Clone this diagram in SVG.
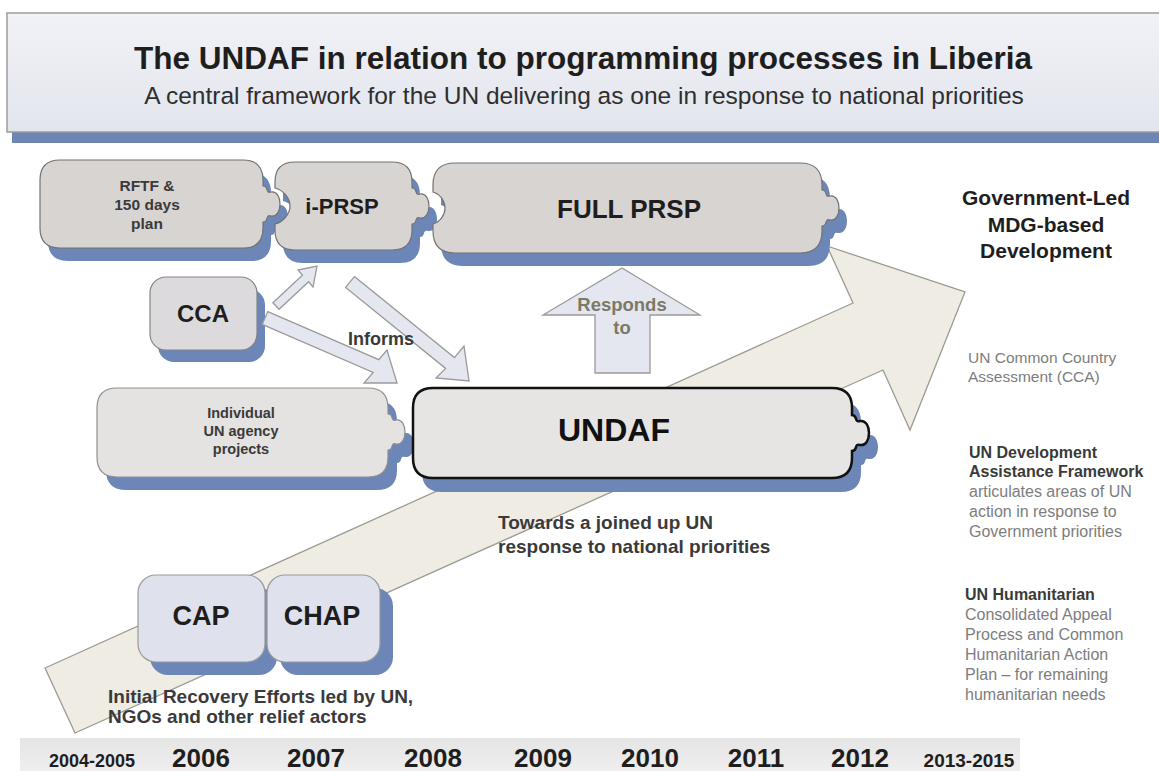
<svg xmlns="http://www.w3.org/2000/svg" xmlns:xlink="http://www.w3.org/1999/xlink" width="1159" height="771" viewBox="0 0 1159 771">
<style>
text{font-family:"Liberation Sans",Arial,sans-serif}
.b{font-weight:bold}
.dark{fill:#1e1e1e}
.mid{fill:#3a3a3a}
.gray{fill:#7d7d7d}
.shadow{fill:#6c86b8}
.top{fill:#d8d4d2;stroke:#737373;stroke-width:1.2}
.light{fill:#e5e2e2;stroke:#8f8f8f;stroke-width:1.2}
.undaf{fill:#e7e4e4;stroke:#111;stroke-width:2.5}
.cca{fill:#dcdadc;stroke:#858585;stroke-width:1.2}
.cap{fill:#dfe2ec;stroke:#9a9a9a;stroke-width:1.2}
.blk{fill:#e5e7f0;stroke:#9a9a9a;stroke-width:1.3}
</style>
<defs>
<linearGradient id="hdr" x1="0" y1="0" x2="0" y2="1">
<stop offset="0" stop-color="#f1f2f7"/>
<stop offset="1" stop-color="#e3e5ed"/>
</linearGradient>
<linearGradient id="band" x1="0" y1="0" x2="0" y2="1">
<stop offset="0" stop-color="#e6e5e5"/>
<stop offset="1" stop-color="#efeded"/>
</linearGradient>
<path id="p-rftf" d="M60,160 H243 Q263,160 263,180 V186 C269,186 265,194 271,192 C283,190 283,218 271,216 C265,214 269,222 263,222 V228 Q263,248 243,248 H60 Q40,248 40,228 V180 Q40,160 60,160 Z"/>
<path id="p-iprsp" d="M295,162 H392 Q412,162 412,182 V188 C418,188 414,196 420,194 C432,192 432,220 420,218 C414,216 418,224 412,224 V230 Q412,250 392,250 H295 Q275,250 275,230 V224 C283,222 290,214 290,206 C290,198 283,190 275,188 V182 Q275,162 295,162 Z"/>
<path id="p-full" d="M455,163 H800 Q822,163 822,185 V190 C828,190 824,198 830,196 C842,194 842,222 830,220 C824,218 828,226 822,226 V231 Q822,253 800,253 H455 Q433,253 433,231 V224 C440,222 445,215 445,208 C445,201 440,194 433,192 V185 Q433,163 455,163 Z"/>
<rect id="p-cca" x="150" y="277" width="107" height="73" rx="16"/>
<path id="p-indiv" d="M117,388 H368 Q388,388 388,408 V414 C394,414 390,422 396,420 C408,418 408,446 396,444 C390,442 394,450 388,450 V457 Q388,477 368,477 H117 Q97,477 97,457 V408 Q97,388 117,388 Z"/>
<path id="p-undaf" d="M433,388 H832 Q852,388 852,408 V415 C858,415 854,423 860,421 C872,419 872,447 860,445 C854,443 858,451 852,451 V458 Q852,478 832,478 H433 Q413,478 413,458 V408 Q413,388 433,388 Z"/>
<rect id="p-cap" x="138" y="575" width="127" height="87" rx="18"/>
<rect id="p-chap" x="267" y="575" width="113" height="87" rx="18"/>
</defs>

<rect width="1159" height="771" fill="#ffffff"/>

<g id="header">
<rect x="12" y="130" width="1152" height="13" fill="#6e86b3"/>
<rect x="7" y="13" width="1160" height="119" fill="url(#hdr)" stroke="#9c9c9c" stroke-width="1.5"/>
<text x="583" y="69" text-anchor="middle" class="b dark" font-size="31.5">The UNDAF in relation to programming processes in Liberia</text>
<text x="584" y="104" text-anchor="middle" font-size="24.5" fill="#2e2e2e">A central framework for the UN delivering as one in response to national priorities</text>
</g>

<g id="progress-arrow">
<polygon points="45,668 853,303 827,246 965,292 910,430 883,370 75,733" fill="#efece4" stroke="#9c9a90" stroke-width="1.3"/>
</g>

<g id="timeline">
<rect x="20" y="738" width="1000" height="33" fill="url(#band)"/>
<text x="92" y="767" text-anchor="middle" class="b dark" font-size="18">2004-2005</text>
<text x="201" y="767" text-anchor="middle" class="b dark" font-size="26">2006</text>
<text x="316" y="767" text-anchor="middle" class="b dark" font-size="26">2007</text>
<text x="433" y="767" text-anchor="middle" class="b dark" font-size="26">2008</text>
<text x="543" y="767" text-anchor="middle" class="b dark" font-size="26">2009</text>
<text x="650" y="767" text-anchor="middle" class="b dark" font-size="26">2010</text>
<text x="756" y="767" text-anchor="middle" class="b dark" font-size="26">2011</text>
<text x="860" y="767" text-anchor="middle" class="b dark" font-size="26">2012</text>
<text x="969" y="767" text-anchor="middle" class="b dark" font-size="19">2013-2015</text>
</g>

<g id="shadows" class="shadow">
<use xlink:href="#p-rftf" href="#p-rftf" transform="translate(8,13)"/>
<use xlink:href="#p-iprsp" href="#p-iprsp" transform="translate(8,13)"/>
<use xlink:href="#p-full" href="#p-full" transform="translate(8,13)"/>
<use xlink:href="#p-cca" href="#p-cca" transform="translate(8,12)"/>
<use xlink:href="#p-indiv" href="#p-indiv" transform="translate(9,13)"/>
<use xlink:href="#p-undaf" href="#p-undaf" transform="translate(9,14)"/>
<use xlink:href="#p-cap" href="#p-cap" transform="translate(12,13)"/>
<use xlink:href="#p-chap" href="#p-chap" transform="translate(13,13)"/>
</g>

<g id="connectors">
<polygon class="blk" points="272.9,302.7 302.4,275.2 298,270 317,266 313,287 308.6,281.8 279.1,309.3"/>
<polygon class="blk" points="267.8,311.6 378.8,359.6 387,350 397,383 364,383 373.2,372.4 262.2,324.4"/>
<polygon class="blk" points="354.4,276.6 454.4,357.6 464,346 469,381 436,378 445.6,368.4 345.6,287.4"/>
<polygon class="blk" points="595,373 595,315 543,315 622,268 700,315 650,315 650,373"/>
<text x="622" y="311" text-anchor="middle" class="b" font-size="18.5" fill="#7b7a66">Responds</text>
<text x="622" y="334" text-anchor="middle" class="b" font-size="18.5" fill="#7b7a66">to</text>
<text x="348" y="345" class="b mid" font-size="18">Informs</text>
</g>

<g id="node-rftf">
<use xlink:href="#p-rftf" href="#p-rftf" class="top"/>
<text x="147" y="191" text-anchor="middle" class="b mid" font-size="15.5">RFTF &amp;</text>
<text x="147" y="210" text-anchor="middle" class="b mid" font-size="15.5">150 days</text>
<text x="147" y="229" text-anchor="middle" class="b mid" font-size="15.5">plan</text>
</g>

<g id="node-iprsp">
<use xlink:href="#p-iprsp" href="#p-iprsp" class="top"/>
<text x="342" y="214" text-anchor="middle" class="b dark" font-size="22">i-PRSP</text>
</g>

<g id="node-full-prsp">
<use xlink:href="#p-full" href="#p-full" class="top"/>
<text x="629" y="218" text-anchor="middle" class="b dark" font-size="26">FULL PRSP</text>
</g>

<g id="node-cca">
<use xlink:href="#p-cca" href="#p-cca" class="cca"/>
<text x="203" y="322" text-anchor="middle" class="b dark" font-size="24">CCA</text>
</g>

<g id="node-individual">
<use xlink:href="#p-indiv" href="#p-indiv" class="light"/>
<text x="241" y="418" text-anchor="middle" class="b mid" font-size="14.5">Individual</text>
<text x="241" y="436" text-anchor="middle" class="b mid" font-size="14.5">UN agency</text>
<text x="241" y="454" text-anchor="middle" class="b mid" font-size="14.5">projects</text>
</g>

<g id="node-undaf">
<use xlink:href="#p-undaf" href="#p-undaf" class="undaf"/>
<text x="614" y="441" text-anchor="middle" class="b" font-size="32" fill="#111">UNDAF</text>
</g>

<g id="node-cap">
<use xlink:href="#p-cap" href="#p-cap" class="cap"/>
<text x="201" y="625" text-anchor="middle" class="b dark" font-size="27">CAP</text>
</g>

<g id="node-chap">
<use xlink:href="#p-chap" href="#p-chap" class="cap"/>
<text x="322" y="625" text-anchor="middle" class="b dark" font-size="27">CHAP</text>
</g>

<g id="labels">
<text class="b mid" font-size="19"><tspan x="498" y="529">Towards a joined up UN</tspan><tspan x="498" y="553">response to national priorities</tspan></text>
<text class="b mid" font-size="19"><tspan x="108" y="703">Initial Recovery Efforts led by UN,</tspan><tspan x="108" y="723">NGOs and other relief actors</tspan></text>
<text text-anchor="middle" class="b dark" font-size="21"><tspan x="1046" y="205">Government-Led</tspan><tspan x="1046" y="232">MDG-based</tspan><tspan x="1046" y="258">Development</tspan></text>
</g>

<g id="legend">
<text class="gray" font-size="15.5"><tspan x="968" y="363">UN Common Country</tspan><tspan x="968" y="382">Assessment (CCA)</tspan></text>
<text font-size="16"><tspan x="969" y="458" class="b mid">UN Development</tspan><tspan x="969" y="477" class="b mid">Assistance Framework</tspan><tspan x="969" y="497" class="gray">articulates areas of UN</tspan><tspan x="969" y="517" class="gray">action in response to</tspan><tspan x="969" y="537" class="gray">Government priorities</tspan></text>
<text font-size="16"><tspan x="965" y="600" class="b mid">UN Humanitarian</tspan><tspan x="965" y="620" class="gray">Consolidated Appeal</tspan><tspan x="965" y="640" class="gray">Process and Common</tspan><tspan x="965" y="660" class="gray">Humanitarian Action</tspan><tspan x="965" y="680" class="gray">Plan – for remaining</tspan><tspan x="965" y="700" class="gray">humanitarian needs</tspan></text>
</g>
</svg>
